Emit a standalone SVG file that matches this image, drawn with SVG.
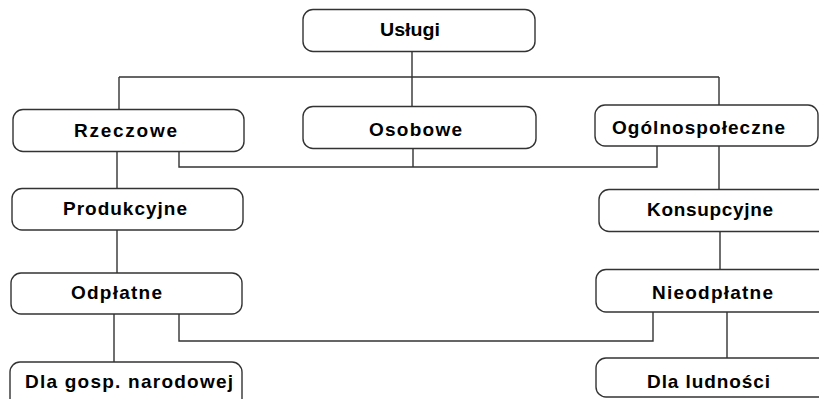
<svg xmlns="http://www.w3.org/2000/svg" width="819" height="399" viewBox="0 0 819 399">
<style>
.box{fill:#fff;stroke:#333;stroke-width:1.4}
.lbl{font-family:"Liberation Sans",Arial,sans-serif;font-weight:bold;font-size:19px;fill:#000}
.con{fill:none;stroke:#333;stroke-width:1.4}
</style>
<rect width="819" height="399" fill="#fff"/>
<g id="connectors">
<path class="con" d="M412 52V77M119 77H719M119 77V109M412 77V106M719 77V105"/>
<path class="con" d="M179 152V167H657V146M413 149V167"/>
<path class="con" d="M117 152V188M117 230V273M114 314V362"/>
<path class="con" d="M719 146V189M720 232V269M727 312V358"/>
<path class="con" d="M179 314V341H653V312"/>
</g>
<g id="uslugi"><rect class="box" x="303" y="9.5" width="232" height="42" rx="10"/><text class="lbl" x="380" y="36" textLength="60" lengthAdjust="spacingAndGlyphs">Usługi</text></g>
<g id="rzeczowe"><rect class="box" x="13" y="109.5" width="231" height="42" rx="10"/><text class="lbl" x="74" y="136.5" textLength="103" lengthAdjust="spacing">Rzeczowe</text></g>
<g id="osobowe"><rect class="box" x="303" y="106.5" width="233" height="42" rx="10"/><text class="lbl" x="369" y="135.5" textLength="93" lengthAdjust="spacing">Osobowe</text></g>
<g id="ogolnospoleczne"><rect class="box" x="595" y="105" width="223" height="41" rx="10"/><text class="lbl" x="612" y="133.5" textLength="173" lengthAdjust="spacing">Ogólnospołeczne</text></g>
<g id="produkcyjne"><rect class="box" x="12" y="188.5" width="231" height="41.5" rx="10"/><text class="lbl" x="63" y="214.5" textLength="124" lengthAdjust="spacing">Produkcyjne</text></g>
<g id="konsupcyjne"><rect class="box" x="599" y="189.5" width="240" height="42" rx="10"/><text class="lbl" x="647" y="215.5" textLength="126" lengthAdjust="spacing">Konsupcyjne</text></g>
<g id="odplatne"><rect class="box" x="11" y="273" width="231" height="41" rx="10"/><text class="lbl" x="71" y="298.5" textLength="91" lengthAdjust="spacing">Odpłatne</text></g>
<g id="nieodplatne"><rect class="box" x="596" y="269.5" width="240" height="42.5" rx="10"/><text class="lbl" x="652" y="298.5" textLength="121" lengthAdjust="spacing">Nieodpłatne</text></g>
<g id="dla-gosp"><rect class="box" x="10" y="362" width="232" height="50" rx="10"/><text class="lbl" x="25" y="387.5" textLength="208" lengthAdjust="spacing">Dla gosp. narodowej</text></g>
<g id="dla-ludnosci"><rect class="box" x="596" y="358" width="240" height="39" rx="10"/><text class="lbl" x="647" y="387.5" textLength="123" lengthAdjust="spacing">Dla ludności</text></g>
</svg>
